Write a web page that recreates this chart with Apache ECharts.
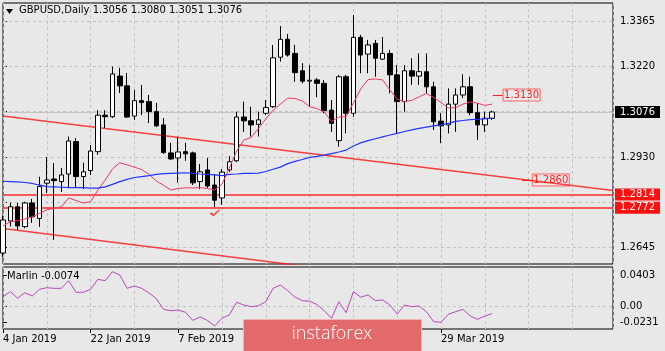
<!DOCTYPE html>
<html>
<head>
<meta charset="utf-8">
<title>GBPUSD Daily</title>
<script src="https://cdn.jsdelivr.net/npm/echarts@6/dist/echarts.min.js"></script>
<style>
  html, body { margin: 0; padding: 0; background: #e8e8e8; }
  #chart { width: 665px; height: 351px; }
</style>
</head>
<body>
<div id="chart"></div>
<script>
// GBPUSD daily, 4 Jan 2019 .. 9 Apr 2019 (bar index 0..67)
const symbolName = 'GBPUSD';
const timeframe = 'Daily';

const opens = [
  1.2628, 1.2730, 1.2775, 1.2712, 1.2787, 1.2738, 1.2850, 1.2863, 1.2855, 1.2879,
  1.2982, 1.2871, 1.2890, 1.2950, 1.3066, 1.3061, 1.3190, 1.3159, 1.3063, 1.3112,
  1.3109, 1.3077, 1.3035, 1.2946, 1.2930, 1.2950, 1.2946, 1.2855, 1.2892, 1.2844,
  1.2803, 1.2892, 1.2921, 1.3060, 1.3048, 1.3037, 1.3072, 1.3093, 1.3250, 1.3307,
  1.3262, 1.3207, 1.3174, 1.3178, 1.3167, 1.3082, 1.2985, 1.3188, 1.3072, 1.3313,
  1.3260, 1.3294, 1.3244, 1.3262, 1.3194, 1.3109, 1.3207, 1.3190, 1.3204, 1.3156,
  1.3047, 1.3035, 1.3101, 1.3130, 1.3156, 1.3074, 1.3035, 1.3056
];
const highs = [
  1.2746, 1.2788, 1.2787, 1.2791, 1.2800, 1.2870, 1.2933, 1.2914, 1.2898, 1.2998,
  1.2993, 1.2915, 1.2971, 1.3082, 1.3082, 1.3220, 1.3216, 1.3200, 1.3146, 1.3162,
  1.3130, 1.3105, 1.3057, 1.2978, 1.2997, 1.2978, 1.2950, 1.2911, 1.2930, 1.2879,
  1.2895, 1.2936, 1.3077, 1.3109, 1.3093, 1.3077, 1.3114, 1.3289, 1.3349, 1.3324,
  1.3289, 1.3231, 1.3225, 1.3184, 1.3178, 1.3114, 1.3194, 1.3194, 1.3384, 1.3321,
  1.3305, 1.3305, 1.3314, 1.3273, 1.3225, 1.3225, 1.3247, 1.3262, 1.3262, 1.3172,
  1.3072, 1.3151, 1.3151, 1.3196, 1.3188, 1.3104, 1.3077, 1.3080
];
const lows = [
  1.2616, 1.2712, 1.2701, 1.2707, 1.2724, 1.2711, 1.2819, 1.2670, 1.2822, 1.2835,
  1.2835, 1.2831, 1.2876, 1.2940, 1.3025, 1.3057, 1.3136, 1.3057, 1.3051, 1.3066,
  1.3041, 1.3028, 1.2943, 1.2924, 1.2851, 1.2921, 1.2844, 1.2831, 1.2835, 1.2774,
  1.2781, 1.2886, 1.2917, 1.3013, 1.2998, 1.2998, 1.3066, 1.3089, 1.3236, 1.3252,
  1.3172, 1.3167, 1.3093, 1.3123, 1.3072, 1.3013, 1.2966, 1.3008, 1.3061, 1.3199,
  1.3199, 1.3188, 1.3241, 1.3135, 1.3008, 1.3077, 1.3162, 1.3162, 1.3135, 1.3019,
  1.2977, 1.3008, 1.3013, 1.3120, 1.3066, 1.2987, 1.3013, 1.3051
];
const closes = [
  1.2733, 1.2775, 1.2714, 1.2787, 1.2743, 1.2839, 1.2860, 1.2858, 1.2876, 1.2984,
  1.2871, 1.2886, 1.2952, 1.3066, 1.3061, 1.3197, 1.3159, 1.3060, 1.3112, 1.3106,
  1.3077, 1.3032, 1.2947, 1.2927, 1.2949, 1.2943, 1.2851, 1.2886, 1.2841, 1.2796,
  1.2885, 1.2918, 1.3060, 1.3048, 1.3035, 1.3051, 1.3090, 1.3248, 1.3307, 1.3257,
  1.3201, 1.3174, 1.3177, 1.3167, 1.3080, 1.3040, 1.3188, 1.3072, 1.3313, 1.3257,
  1.3289, 1.3247, 1.3262, 1.3194, 1.3109, 1.3207, 1.3190, 1.3204, 1.3156, 1.3045,
  1.3032, 1.3101, 1.3130, 1.3156, 1.3074, 1.3035, 1.3056, 1.3076
];

// moving averages (red = fast, blue = slow)
const maFast = [
  1.2714, 1.2727, 1.2731, 1.2736, 1.2743, 1.2754, 1.2765, 1.2770, 1.2775, 1.2803,
  1.2795, 1.2787, 1.2791, 1.2828, 1.2860, 1.2895, 1.2915, 1.2908, 1.2901, 1.2893,
  1.2878, 1.2857, 1.2843, 1.2828, 1.2833, 1.2835, 1.2835, 1.2836, 1.2833, 1.2828,
  1.2847, 1.2898, 1.2952, 1.2987, 1.2995, 1.3024, 1.3054, 1.3082, 1.3101, 1.3120,
  1.3119, 1.3111, 1.3093, 1.3087, 1.3076, 1.3046, 1.3060, 1.3061, 1.3105, 1.3149,
  1.3179, 1.3181, 1.3178, 1.3146, 1.3117, 1.3109, 1.3113, 1.3124, 1.3135, 1.3122,
  1.3106, 1.3089, 1.3090, 1.3101, 1.3108, 1.3104, 1.3097, 1.3101
];
const maSlow = [
  1.2856, 1.2855, 1.2854, 1.2852, 1.2849, 1.2844, 1.2839, 1.2838, 1.2837, 1.2836,
  1.2836, 1.2836, 1.2834, 1.2834, 1.2838, 1.2846, 1.2855, 1.2862, 1.2868, 1.2871,
  1.2874, 1.2878, 1.2880, 1.2881, 1.2882, 1.2883, 1.2881, 1.2879, 1.2878, 1.2876,
  1.2874, 1.2878, 1.2879, 1.2881, 1.2881, 1.2882, 1.2887, 1.2894, 1.2901, 1.2912,
  1.2919, 1.2925, 1.2932, 1.2935, 1.2939, 1.2944, 1.2949, 1.2955, 1.2968, 1.2978,
  1.2985, 1.2991, 1.2997, 1.3003, 1.3008, 1.3014, 1.3019, 1.3024, 1.3028, 1.3032,
  1.3035, 1.3040, 1.3046, 1.3049, 1.3052, 1.3053, 1.3054, 1.3057
];

// Marlin oscillator
const marlin = [
  0.0099, 0.0151, 0.0084, 0.0140, 0.0106, 0.0175, 0.0191, 0.0185, 0.0185, 0.0263,
  0.0144, 0.0144, 0.0175, 0.0277, 0.0263, 0.0355, 0.0321, 0.0185, 0.0209, 0.0185,
  0.0137, 0.0081, -0.0030, -0.0044, -0.0037, -0.0060, -0.0143, -0.0108, -0.0143, -0.0200,
  -0.0121, -0.0087, 0.0042, 0.0014, -0.0003, 0.0007, 0.0048, 0.0185, 0.0219, 0.0161,
  0.0096, 0.0059, 0.0053, 0.0020, -0.0044, -0.0121, 0.0048, -0.0064, 0.0151, 0.0094,
  0.0117, 0.0059, 0.0066, 0.0014, -0.0078, 0.0014, -0.0003, 0.0004, -0.0054, -0.0156,
  -0.0162, -0.0080, -0.0054, -0.0030, -0.0098, -0.0132, -0.0098, -0.0074
];

// drawn objects: channel lines [barIndex, price], levels
const channelUpper = [[0, 1.3063], [83.56, 1.2827]];
const channelLower = [[0, 1.2706], [83.56, 1.2464]];
const supportLevels = [1.2814, 1.2772];
const targetUp = 1.3130;
const targetDown = 1.2860;
const checkMark = [29, 1.2755];

// axes
const barsOnScreen = 83.56;
const priceMin = 1.25932;
const priceMax = 1.34222;
const priceTicks = [1.3365, 1.3221, 1.3077, 1.2933, 1.2789, 1.2645];
const priceTickLabels = ['1.3365', '1.3220', '', '1.2930', '', '1.2645'];
const marlinMin = -0.0231;
const marlinMax = 0.0403;
const marlinTicks = [0.0321, 0, -0.0163];
const marlinTickLabels = ['0.0403', '0.00', '-0.0231'];
const dateTicks = [0, 12, 24, 60];
const dateTickLabels = ['4 Jan 2019', '22 Jan 2019', '7 Feb 2019', '29 Mar 2019'];

const font = 'DejaVu Sans';
const last = closes.length - 1;
const candles = closes.map((c, i) => [i, opens[i], c, lows[i], highs[i]]);
const pairs = arr => arr.map((v, i) => [i, v]);
const pick = (vals, labels) => v => {
  const k = vals.findIndex(t => Math.abs(t - v) < 1e-6);
  return k < 0 ? '' : labels[k];
};

const gridDash = {color: '#c2c2c2', type: [3, 3], width: 1};
const boxLabel = (text, bg) => ({
  show: true, position: 'end', distance: 2, formatter: text,
  color: '#fff', backgroundColor: bg, padding: [1, 5, 0, 5], lineHeight: 11,
  fontSize: 10, fontFamily: font
});
const tagLabel = text => ({
  show: true, position: 'end', distance: 0, formatter: text,
  color: '#ff2020', borderColor: '#ff6060', borderWidth: 1, padding: [1, 1, 0, 1],
  lineHeight: 11, fontSize: 10, fontFamily: font
});

const chart = echarts.init(document.getElementById('chart'));

const option = {
  backgroundColor: '#e8e8e8',
  animation: false,
  textStyle: {fontFamily: font},
  title: [
    {
      text: symbolName + ',' + timeframe + ' ' +
        [opens[last], highs[last], lows[last], closes[last]].map(v => v.toFixed(4)).join(' '),
      left: 19, top: 5, padding: 0,
      textStyle: {fontSize: 10, fontWeight: 'normal', color: '#000', fontFamily: font}
    },
    {
      text: 'Marlin ' + marlin[last].toFixed(4),
      left: 7, top: 271, padding: 0,
      textStyle: {fontSize: 10, fontWeight: 'normal', color: '#000', fontFamily: font}
    }
  ],
  grid: [
    {left: 3, top: 3, width: 610, height: 261, show: true, borderColor: '#000', borderWidth: 1},
    {left: 3, top: 267, width: 610, height: 62, show: true, borderColor: '#000', borderWidth: 1}
  ],
  xAxis: [
    {
      gridIndex: 0, type: 'value', min: 0, max: barsOnScreen, interval: 6,
      axisLine: {show: false}, axisTick: {show: false}, axisLabel: {show: false},
      splitLine: {show: true, lineStyle: gridDash}
    },
    {
      gridIndex: 1, type: 'value', min: 0, max: barsOnScreen, interval: 6,
      axisLine: {show: false}, axisTick: {show: false}, axisLabel: {show: false},
      splitLine: {show: true, lineStyle: gridDash}
    },
    {
      gridIndex: 1, type: 'value', min: 0, max: barsOnScreen, position: 'bottom',
      axisLine: {show: false},
      axisTick: {show: true, customValues: dateTicks, length: 4, lineStyle: {color: '#000'}},
      axisLabel: {
        show: true, customValues: dateTicks, formatter: pick(dateTicks, dateTickLabels),
        align: 'left', margin: 5, fontSize: 10, color: '#000', fontFamily: font
      },
      splitLine: {show: false}
    }
  ],
  yAxis: [
    {
      gridIndex: 0, type: 'value', position: 'right', min: priceMin, max: priceMax,
      axisLine: {show: false},
      axisTick: {show: true, customValues: priceTicks, length: 4, lineStyle: {color: '#000'}},
      axisLabel: {
        show: true, customValues: priceTicks, formatter: pick(priceTicks, priceTickLabels),
        margin: 7, fontSize: 10, color: '#000', fontFamily: font
      },
      splitLine: {show: false}
    },
    {
      gridIndex: 1, type: 'value', position: 'right', min: marlinMin, max: marlinMax,
      axisLine: {show: false},
      axisTick: {show: true, customValues: marlinTicks, length: 4, lineStyle: {color: '#000'}},
      axisLabel: {
        show: true, customValues: marlinTicks, formatter: pick(marlinTicks, marlinTickLabels),
        margin: 7, fontSize: 10, color: '#000', fontFamily: font
      },
      splitLine: {show: false}
    }
  ],
  series: [
    {
      // horizontal price grid
      name: 'grid', type: 'line', xAxisIndex: 0, yAxisIndex: 0,
      data: channelUpper, symbol: 'none', silent: true, z: 1,
      lineStyle: {opacity: 0},
      markLine: {
        silent: true, symbol: ['none', 'none'], animation: false, z: 1, precision: 5,
        label: {show: false}, lineStyle: gridDash,
        data: priceTicks.map(v => ({yAxis: v}))
      }
    },
    {
      name: 'channel-up', type: 'line', xAxisIndex: 0, yAxisIndex: 0,
      data: channelUpper, symbol: 'none', clip: true, silent: true, z: 2,
      lineStyle: {color: 'rgba(255,20,20,0.8)', width: 1.5}
    },
    {
      name: 'channel-down', type: 'line', xAxisIndex: 0, yAxisIndex: 0,
      data: channelLower, symbol: 'none', clip: true, silent: true, z: 2,
      lineStyle: {color: 'rgba(255,20,20,0.8)', width: 1.5},
      markLine: {
        silent: true, symbol: ['none', 'none'], animation: false, z: 2, precision: 5,
        data: [
          {
            yAxis: closes[last],
            lineStyle: {color: '#c4c4c4', width: 1, type: 'solid'},
            label: boxLabel(closes[last].toFixed(4), '#000')
          },
          ...supportLevels.map(v => ({
            yAxis: v,
            lineStyle: {color: 'rgba(255,40,40,0.75)', width: 2, type: 'solid'},
            label: boxLabel(v.toFixed(4), '#ff1010')
          })),
          [
            {coord: [67.1, targetUp]},
            {coord: [68.5, targetUp], lineStyle: {color: '#ff2020', width: 1, type: 'solid'},
              label: tagLabel(targetUp.toFixed(4))}
          ],
          [
            {coord: [71.1, targetDown]},
            {coord: [72.5, targetDown], lineStyle: {color: '#ff2020', width: 1, type: 'solid'},
              label: tagLabel(targetDown.toFixed(4))}
          ]
        ]
      }
    },
    {
      name: symbolName, type: 'candlestick', xAxisIndex: 0, yAxisIndex: 0,
      data: candles, barWidth: 5, z: 3,
      itemStyle: {
        color: '#ffffff', color0: '#000000',
        borderColor: '#000000', borderColor0: '#000000', borderWidth: 1
      }
    },
    {
      name: 'MA fast', type: 'line', xAxisIndex: 0, yAxisIndex: 0,
      data: pairs(maFast), symbol: 'none', z: 4, silent: true,
      lineStyle: {color: '#ec3a62', width: 1}
    },
    {
      name: 'MA slow', type: 'line', xAxisIndex: 0, yAxisIndex: 0,
      data: pairs(maSlow), symbol: 'none', z: 4, silent: true,
      lineStyle: {color: '#2433ff', width: 1.2}
    },
    {
      name: 'mark', type: 'scatter', xAxisIndex: 0, yAxisIndex: 0,
      data: [checkMark], z: 5, silent: true,
      symbol: 'path://M0,5 L2,3.5 L4,6 L10,0 L11,1.2 L4,9 Z', symbolSize: [10, 7],
      itemStyle: {color: '#ff2020'}
    },
    {
      name: 'Marlin', type: 'line', xAxisIndex: 1, yAxisIndex: 1,
      data: pairs(marlin), symbol: 'none', z: 4, silent: true,
      lineStyle: {color: '#b648b9', width: 1},
      markLine: {
        silent: true, symbol: ['none', 'none'], animation: false, z: 1, precision: 5,
        label: {show: false},
        data: [{yAxis: 0, lineStyle: gridDash}]
      }
    }
  ],
  graphic: [
    {
      type: 'polygon', z: 10,
      shape: {points: [[6, 9], [13, 9], [9.5, 14]]},
      style: {fill: '#000'}
    },
    {
      type: 'rect', z: 100,
      shape: {x: 243.5, y: 319.5, width: 178, height: 33},
      style: {fill: '#e26a6a', stroke: '#f3b4b4', lineWidth: 1}
    },
    {
      type: 'text', z: 101, x: 332, y: 334,
      style: {
        text: 'instaforex', fill: '#ffffff', font: '300 18px "Open Sans"',
        align: 'center', verticalAlign: 'middle', textAlign: 'center', textVerticalAlign: 'middle'
      }
    }
  ]
};

chart.setOption(option);
</script>
</body>
</html>
